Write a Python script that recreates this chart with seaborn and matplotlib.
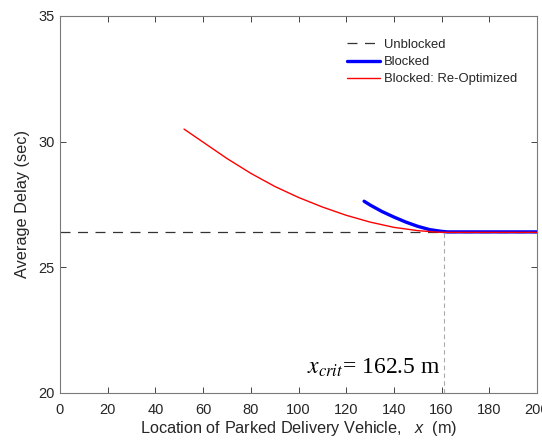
import matplotlib
matplotlib.use("Agg")
import matplotlib.pyplot as plt
import seaborn as sns
import pandas as pd

# ---- data ----
unblocked_x = [0, 200]
unblocked_y = [26.41, 26.41]

blocked_x = [127.5, 130, 135, 140, 145, 150, 155, 160, 162.5, 180, 200]
blocked_y = [27.63, 27.48, 27.22, 27.00, 26.80, 26.63, 26.50, 26.43, 26.41, 26.41, 26.41]

reopt_x = [52, 60, 70, 80, 90, 100, 110, 120, 130, 140, 150, 158, 162.5, 180, 200]
reopt_y = [30.5, 29.98, 29.33, 28.74, 28.22, 27.78, 27.40, 27.07, 26.80, 26.59, 26.46, 26.40, 26.39, 26.39, 26.39]

x_crit_label = 162.5
x_crit_line = 161
xticks = [0, 20, 40, 60, 80, 100, 120, 140, 160, 180, 200]
yticks = [20, 25, 30, 35]

sns.set_style("ticks")
plt.rcParams["font.family"] = ["Liberation Sans", "DejaVu Sans"]
plt.rcParams["mathtext.fontset"] = "custom"
plt.rcParams["mathtext.it"] = "Liberation Sans:italic"
plt.rcParams["mathtext.rm"] = "Liberation Sans"

fig = plt.figure(figsize=(5.42, 4.44), dpi=100)
ax = fig.add_axes([0.1107, 0.1149, 0.8801, 0.8491])

df_u = pd.DataFrame({"x": unblocked_x, "y": unblocked_y})
df_b = pd.DataFrame({"x": blocked_x, "y": blocked_y})
df_r = pd.DataFrame({"x": reopt_x, "y": reopt_y})

DASH = (8, 6)
sns.lineplot(data=df_u, x="x", y="y", ax=ax, color="#333333", lw=0.9,
             label="Unblocked", zorder=2)
ax.lines[-1].set_dashes(DASH)
sns.lineplot(data=df_b, x="x", y="y", ax=ax, color="#0000ff", lw=2.4,
             label="Blocked", zorder=3)
sns.lineplot(data=df_r, x="x", y="y", ax=ax, color="#ff0000", lw=1.0,
             label="Blocked: Re-Optimized", zorder=4)

ax.plot([x_crit_line, x_crit_line], [20, unblocked_y[0]], color="#aaaaaa", lw=0.8,
        dashes=(4, 3), zorder=1)

ax.text(103.5, 20.75, r"$x_{crit}$= %g m" % x_crit_label, fontsize=17,
        family="Liberation Serif", math_fontfamily="stix", color="black")

ax.set_xlim(0, 200)
ax.set_ylim(20, 35)
ax.set_xticks(xticks)
ax.set_yticks(yticks)
ax.tick_params(direction="in", length=4, width=0.6, colors="#262626",
               labelsize=10.5, top=True, right=True, pad=4)
ax.tick_params(axis="x", pad=7)
for s in ax.spines.values():
    s.set_visible(True)
    s.set_color("#7a7a7a")
    s.set_linewidth(0.8)

ax.set_xlabel(r"Location of Parked Delivery Vehicle,   $x$  (m)", fontsize=11.7,
              color="#262626", labelpad=2)
ax.set_ylabel("Average Delay (sec)", fontsize=11.7, color="#262626", labelpad=6)

leg = ax.legend(loc="upper left", bbox_to_anchor=(0.59, 0.953), frameon=False,
                fontsize=9.4, handlelength=2.55, handletextpad=0.3,
                labelspacing=0.38, borderaxespad=0)
leg.get_lines()[0].set_dashes(DASH)

fig.savefig("out.png", dpi=100)
